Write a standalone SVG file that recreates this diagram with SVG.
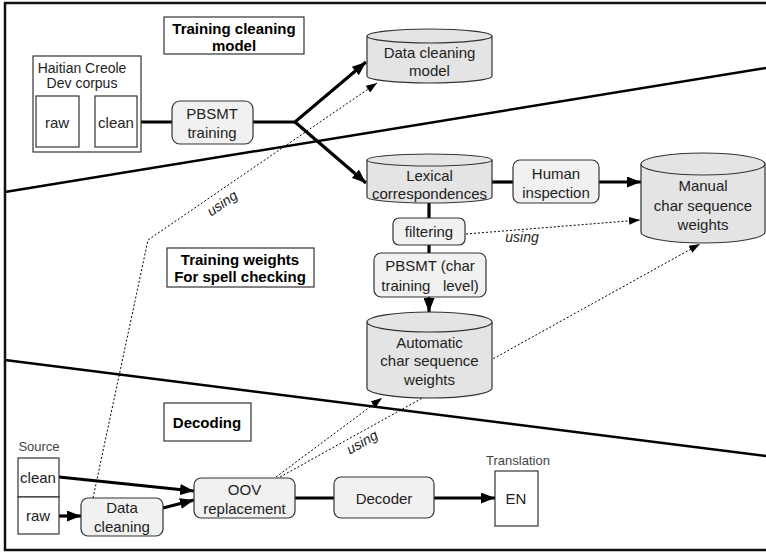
<svg xmlns="http://www.w3.org/2000/svg" width="766" height="552" viewBox="0 0 766 552">
<defs>
<style>
text{font-family:"Liberation Sans",Arial,sans-serif;font-size:15px;fill:#222;text-anchor:middle;dominant-baseline:central}
.title{font-weight:bold;fill:#000}
.small{font-size:13px;fill:#444}
.it{font-style:italic;font-size:14px}
.box{fill:#fff;stroke:#333;stroke-width:1.2}
.rbox{fill:#f1f1f1;stroke:#333;stroke-width:1.2}
.cyl{fill:#e4e4e4;stroke:#333;stroke-width:1.2}
.thick{fill:none;stroke:#000;stroke-width:3.2}
.dot{fill:none;stroke:#000;stroke-width:1;stroke-dasharray:2,2}
.sep{fill:none;stroke:#000;stroke-width:2.5}
</style>
<marker id="ah" markerUnits="userSpaceOnUse" markerWidth="15" markerHeight="11" refX="14" refY="5.5" orient="auto">
<path d="M0,0 L14,5.5 L0,11 z" fill="#000"/>
</marker>
<marker id="ahs" markerUnits="userSpaceOnUse" markerWidth="12" markerHeight="8" refX="11" refY="4" orient="auto">
<path d="M0,0 L11,4 L0,8 z" fill="#000"/>
</marker>
</defs>
<rect x="5" y="3" width="765" height="547" fill="#fff" stroke="#111" stroke-width="2.5"/>

<g id="separators">
<line class="sep" x1="5" y1="192" x2="766" y2="68"/>
<line class="sep" x1="5" y1="360" x2="766" y2="456"/>
</g>

<g id="connectors">
<line class="thick" x1="137" y1="122" x2="172" y2="122"/>
<polyline class="thick" points="253,122 295,122 366,62" marker-end="url(#ah)"/>
<line class="thick" x1="295" y1="122" x2="366" y2="183" marker-end="url(#ah)"/>
<line class="thick" x1="492" y1="182" x2="513" y2="182"/>
<line class="thick" x1="599" y1="182" x2="641" y2="182" marker-end="url(#ah)"/>
<line class="thick" x1="429" y1="203" x2="429" y2="218"/>
<line class="thick" x1="429" y1="245" x2="429" y2="253"/>
<line class="thick" x1="429" y1="297" x2="429" y2="312" marker-end="url(#ah)"/>
<line class="dot" x1="466" y1="234" x2="640" y2="220" marker-end="url(#ahs)"/>
<line class="dot" x1="280" y1="477" x2="700" y2="244" marker-end="url(#ahs)"/>
<line class="dot" x1="276" y1="477" x2="382" y2="398" marker-end="url(#ahs)"/>
<polyline class="dot" points="93,498 148,240 377,83" marker-end="url(#ahs)"/>
<line class="thick" x1="59" y1="516" x2="81" y2="516" marker-end="url(#ah)"/>
<line class="thick" x1="59" y1="477" x2="194" y2="491" marker-end="url(#ah)"/>
<line class="thick" x1="163" y1="508" x2="194" y2="500" marker-end="url(#ah)"/>
<line class="thick" x1="295" y1="498" x2="334" y2="498"/>
<line class="thick" x1="434" y1="498" x2="495" y2="498" marker-end="url(#ah)"/>
<text class="it" transform="translate(222,203) rotate(-35)">using</text>
<text class="it" x="522" y="237">using</text>
<text class="it" transform="translate(362,442) rotate(-30)">using</text>
</g>

<g id="title-cleaning">
<rect class="box" x="164" y="17" width="140" height="37"/>
<text class="title" x="234" y="28">Training cleaning</text>
<text class="title" x="234" y="45">model</text>
</g>

<g id="title-weights">
<rect class="box" x="167" y="248" width="147" height="39"/>
<text class="title" x="240" y="259">Training weights</text>
<text class="title" x="240" y="276">For spell checking</text>
</g>

<g id="title-decoding">
<rect class="box" x="164" y="403" width="87" height="38"/>
<text class="title" x="207" y="422">Decoding</text>
</g>

<g id="dev-corpus">
<rect class="box" x="33" y="56" width="108" height="96"/>
<text x="82" y="68" style="font-size:14px">Haitian Creole</text>
<text x="82" y="83" style="font-size:14px">Dev corpus</text>
<rect class="box" x="36" y="96" width="43" height="51"/>
<text x="57" y="122">raw</text>
<rect class="box" x="95" y="96" width="42" height="51"/>
<text x="116" y="122">clean</text>
</g>

<g id="pbsmt-training">
<rect class="rbox" x="172" y="101" width="81" height="43" rx="8"/>
<text x="212" y="113">PBSMT</text>
<text x="212" y="132">training</text>
</g>

<g id="data-cleaning-model">
<path class="cyl" d="M367,36 V76 A62.5,7 0 0 0 492,76 V36"/>
<ellipse class="cyl" cx="429.5" cy="36" rx="62.5" ry="7"/>
<text x="429.5" y="52">Data cleaning</text>
<text x="429.5" y="70">model</text>
</g>

<g id="lexical">
<path class="cyl" d="M367,160 V197 A62.5,6 0 0 0 492,197 V160"/>
<ellipse class="cyl" cx="429.5" cy="160" rx="62.5" ry="6"/>
<text x="429.5" y="175">Lexical</text>
<text x="429.5" y="193">correspondences</text>
</g>

<g id="human-inspection">
<rect class="rbox" x="513" y="160" width="86" height="43" rx="7"/>
<text x="556" y="173">Human</text>
<text x="556" y="192">inspection</text>
</g>

<g id="manual-weights">
<path class="cyl" d="M641,164 V232 A62,11 0 0 0 765,232 V164"/>
<ellipse class="cyl" cx="703" cy="164" rx="62" ry="11"/>
<text x="703" y="185">Manual</text>
<text x="703" y="205">char sequence</text>
<text x="703" y="224">weights</text>
</g>

<g id="filtering">
<rect class="rbox" x="393" y="218" width="72" height="27" rx="6"/>
<text x="429" y="231">filtering</text>
</g>

<g id="pbsmt-char">
<rect class="rbox" x="374" y="253" width="112" height="44" rx="7"/>
<text x="430" y="265">PBSMT (char</text>
<text x="430" y="285" style="white-space:pre">training   level)</text>
</g>

<g id="automatic-weights">
<path class="cyl" d="M367,322 V388 A62.5,10 0 0 0 492,388 V322"/>
<ellipse class="cyl" cx="429.5" cy="322" rx="62.5" ry="10"/>
<text x="429.5" y="342">Automatic</text>
<text x="429.5" y="360">char sequence</text>
<text x="429.5" y="379">weights</text>
</g>

<g id="source">
<text class="small" x="39" y="446">Source</text>
<rect class="box" x="18" y="458" width="41" height="39"/>
<text x="38" y="477">clean</text>
<rect class="box" x="18" y="497" width="41" height="37"/>
<text x="38" y="515">raw</text>
</g>

<g id="data-cleaning">
<rect class="rbox" x="81" y="498" width="82" height="38" rx="7"/>
<text x="122" y="507">Data</text>
<text x="122" y="526">cleaning</text>
</g>

<g id="oov">
<rect class="rbox" x="194" y="478" width="101" height="40" rx="7"/>
<text x="244.5" y="489">OOV</text>
<text x="244.5" y="508">replacement</text>
</g>

<g id="decoder">
<rect class="rbox" x="334" y="477" width="100" height="41" rx="7"/>
<text x="384" y="498">Decoder</text>
</g>

<g id="translation">
<text class="small" x="518" y="460">Translation</text>
<rect class="box" x="495" y="471" width="43" height="55"/>
<text x="516" y="498">EN</text>
</g>
</svg>
